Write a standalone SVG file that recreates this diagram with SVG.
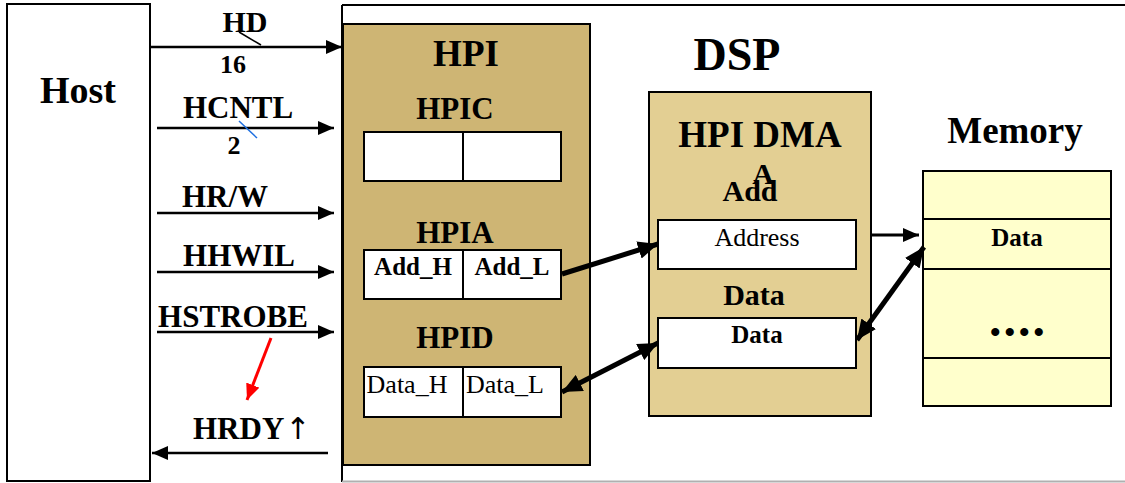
<svg xmlns="http://www.w3.org/2000/svg" width="1125" height="483" viewBox="0 0 1125 483">
  <style>
    text { font-family: "Liberation Serif", "Times New Roman", serif; fill: #000; }
    .b { font-weight: bold; }
    .box { stroke: #000; stroke-width: 2; }
    .cell { fill: #fff; stroke: #000; stroke-width: 2; }
    .sig { stroke: #000; stroke-width: 2.5; fill: none; marker-end: url(#arr); }
    .bus { stroke: #000; stroke-width: 5; fill: none; }
  </style>
  <defs>
    <marker id="arr" markerUnits="userSpaceOnUse" markerWidth="16" markerHeight="14" refX="16" refY="7" orient="auto">
      <path d="M0,0 L16,7 L0,14 z" fill="#000"/>
    </marker>
    <marker id="arrBig" markerUnits="userSpaceOnUse" markerWidth="20" markerHeight="18" refX="20" refY="9" orient="auto-start-reverse">
      <path d="M0,0 L20,9 L0,18 z" fill="#000"/>
    </marker>
    <marker id="arrRed" markerUnits="userSpaceOnUse" markerWidth="16" markerHeight="14" refX="16" refY="7" orient="auto">
      <path d="M0,0 L16,7 L0,14 z" fill="#f00"/>
    </marker>
  </defs>

  <rect width="1125" height="483" fill="#fff"/>

  <!-- DSP outline (open to the right) -->
  <g id="dsp">
    <line x1="342" y1="5" x2="1125" y2="5" stroke="#000" stroke-width="2"/>
    <line x1="342" y1="5" x2="342" y2="482" stroke="#000" stroke-width="2"/>
    <line x1="342" y1="481.5" x2="1125" y2="481.5" stroke="#b0b0b0" stroke-width="2"/>
    <text class="b" x="737" y="70" font-size="46" text-anchor="middle">DSP</text>
  </g>

  <!-- Host -->
  <g id="host">
    <rect class="box" x="7" y="4" width="143" height="477" fill="#fff"/>
    <text class="b" x="78" y="103" font-size="38" text-anchor="middle">Host</text>
  </g>

  <!-- HPI block with its registers -->
  <g id="hpi">
    <rect class="box" x="343" y="24" width="247" height="441" fill="#ceb574"/>
    <text class="b" x="466" y="66" font-size="37" text-anchor="middle">HPI</text>
    <text class="b" x="455" y="119" font-size="31" text-anchor="middle">HPIC</text>
    <rect class="cell" x="364" y="132" width="99" height="49"/>
    <rect class="cell" x="463" y="132" width="98" height="49"/>
    <text class="b" x="455" y="243" font-size="31" text-anchor="middle">HPIA</text>
    <rect class="cell" x="364" y="250" width="99" height="49"/>
    <rect class="cell" x="463" y="250" width="98" height="49"/>
    <text class="b" x="413" y="275" font-size="25" text-anchor="middle">Add_H</text>
    <text class="b" x="512" y="275" font-size="25" text-anchor="middle">Add_L</text>
    <text class="b" x="455" y="348" font-size="31" text-anchor="middle">HPID</text>
    <rect class="cell" x="364" y="367" width="99" height="50"/>
    <rect class="cell" x="463" y="367" width="98" height="50"/>
    <text x="407" y="393" font-size="26" text-anchor="middle">Data_H</text>
    <text x="505" y="393" font-size="26" text-anchor="middle">Data_L</text>
  </g>

  <!-- HPI DMA block -->
  <g id="hpi-dma">
    <rect class="box" x="649" y="92" width="222" height="324" fill="#e3cf93"/>
    <text class="b" x="760" y="147" font-size="37" text-anchor="middle">HPI DMA</text>
    <text class="b" x="763" y="184" font-size="30" text-anchor="middle">A</text>
    <text class="b" x="750" y="201" font-size="30" text-anchor="middle">Add</text>
    <rect class="cell" x="658" y="220" width="198" height="49"/>
    <text x="757" y="246" font-size="26" text-anchor="middle">Address</text>
    <text class="b" x="754" y="305" font-size="30" text-anchor="middle">Data</text>
    <rect class="cell" x="658" y="318" width="198" height="50"/>
    <text class="b" x="757" y="343" font-size="25" text-anchor="middle">Data</text>
  </g>

  <!-- Memory -->
  <g id="memory">
    <text class="b" x="1015" y="143" font-size="37" text-anchor="middle">Memory</text>
    <rect class="box" x="923" y="171" width="188" height="235" fill="#ffffcc"/>
    <line x1="923" y1="219" x2="1111" y2="219" stroke="#000" stroke-width="2"/>
    <line x1="923" y1="269" x2="1111" y2="269" stroke="#000" stroke-width="2"/>
    <line x1="923" y1="358" x2="1111" y2="358" stroke="#000" stroke-width="2"/>
    <text class="b" x="1017" y="246" font-size="25" text-anchor="middle">Data</text>
    <text class="b" x="1019" y="342" font-size="30" text-anchor="middle" letter-spacing="4">••••</text>
  </g>

  <!-- Host interface signals -->
  <g id="signals">
    <text class="b" x="245" y="32" font-size="30" text-anchor="middle">HD</text>
    <line class="sig" x1="150" y1="47" x2="342" y2="47"/>
    <line x1="239" y1="32" x2="261" y2="45" stroke="#000" stroke-width="1.5"/>
    <text class="b" x="233" y="73" font-size="26" text-anchor="middle">16</text>

    <text class="b" x="238" y="118" font-size="31" text-anchor="middle">HCNTL</text>
    <line class="sig" x1="157" y1="128" x2="334" y2="128"/>
    <line x1="239" y1="121" x2="257" y2="138" stroke="#1e6fe0" stroke-width="1.5"/>
    <text class="b" x="234" y="154" font-size="26" text-anchor="middle">2</text>

    <text class="b" x="225" y="207" font-size="31" text-anchor="middle">HR/W</text>
    <line class="sig" x1="157" y1="213" x2="334" y2="213"/>

    <text class="b" x="239" y="266" font-size="31" text-anchor="middle">HHWIL</text>
    <line class="sig" x1="157" y1="272" x2="334" y2="272"/>

    <text class="b" x="233" y="327" font-size="31" text-anchor="middle">HSTROBE</text>
    <line class="sig" x1="157" y1="332" x2="334" y2="332"/>

    <line x1="271" y1="338" x2="247" y2="400" stroke="#f00" stroke-width="3" marker-end="url(#arrRed)"/>

    <text class="b" x="193" y="439" font-size="31">HRDY<tspan font-family="'DejaVu Sans', sans-serif" font-weight="normal" font-size="30" dx="1">↑</tspan></text>
    <line class="sig" x1="328" y1="453" x2="152" y2="453"/>
  </g>

  <!-- Data paths between HPI, DMA and memory -->
  <g id="connectors">
    <line class="bus" x1="562" y1="274" x2="658" y2="244" marker-end="url(#arrBig)"/>
    <line class="bus" x1="562" y1="392" x2="658" y2="343" marker-start="url(#arrBig)" marker-end="url(#arrBig)"/>
    <line x1="871" y1="235" x2="919" y2="235" stroke="#000" stroke-width="3" marker-end="url(#arr)"/>
    <line class="bus" x1="857" y1="340" x2="924" y2="247" marker-start="url(#arrBig)" marker-end="url(#arrBig)"/>
  </g>
</svg>
